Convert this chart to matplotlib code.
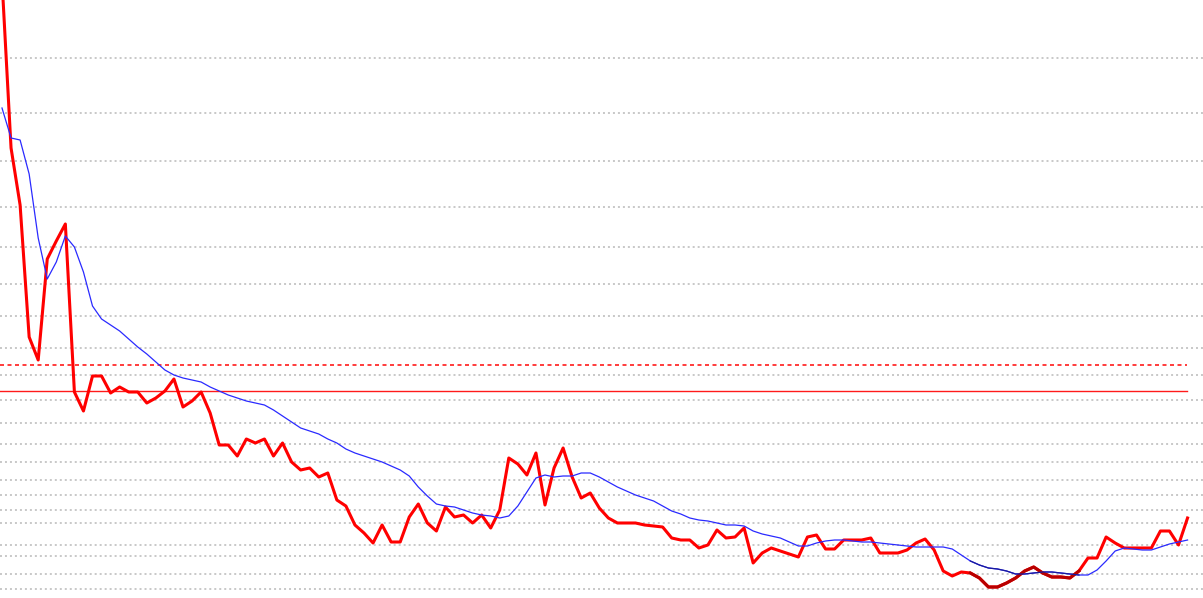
import matplotlib
matplotlib.use("Agg")
import matplotlib.pyplot as plt
import numpy as np

# values (arbitrary units)
price = [61.8, 45.0, 39.3, 26.1, 23.8, 33.9, 35.7, 37.4, 20.6, 18.7,
         22.2, 22.2, 20.5, 21.1, 20.6, 20.6, 19.5, 20.0, 20.7, 21.9,
         19.1, 19.7, 20.6, 18.5, 15.3, 15.3, 14.2, 15.9, 15.5, 15.9,
         14.2, 15.5, 13.6, 12.8, 13.0, 12.1, 12.5, 9.8, 9.2, 7.3,
         6.5, 5.5, 7.3, 5.6, 5.6, 8.1, 9.4, 7.5, 6.7, 9.1,
         8.1, 8.3, 7.5, 8.3, 7.0, 8.8, 14.0, 13.4, 12.3, 14.5,
         9.3, 13.0, 15.0, 12.1, 10.0, 10.5, 9.0, 8.0, 7.5, 7.5,
         7.5, 7.3, 7.2, 7.1, 6.0, 5.8, 5.8, 5.0, 5.3, 6.8,
         6.0, 6.1, 7.0, 3.5, 4.5, 5.0, 4.7, 4.4, 4.1, 6.1,
         6.3, 4.9, 4.9, 5.8, 5.8, 5.8, 6.0, 4.5, 4.5, 4.5,
         4.8, 5.5, 5.9, 4.8, 2.7, 2.2, 2.6, 2.5, 2.0, 1.1,
         1.1, 1.5, 2.0, 2.7, 3.1, 2.5, 2.1, 2.1, 2.0, 2.7,
         4.0, 4.0, 6.1, 5.5, 5.0, 5.0, 5.0, 5.0, 6.7, 6.7,
         5.3, 8.0]

avg = [49.0, 46.0, 45.8, 42.4, 36.0, 31.9, 33.6, 36.2, 35.1, 32.6,
       29.2, 27.9, 27.3, 26.7, 25.9, 25.1, 24.4, 23.6, 22.8, 22.3,
       22.0, 21.8, 21.6, 21.1, 20.7, 20.3, 20.0, 19.7, 19.5, 19.3,
       18.8, 18.2, 17.6, 17.0, 16.7, 16.4, 15.9, 15.5, 14.9, 14.5,
       14.2, 13.9, 13.6, 13.2, 12.8, 12.2, 11.1, 10.2, 9.4, 9.2,
       9.1, 8.8, 8.5, 8.3, 8.2, 8.0, 8.2, 9.2, 10.6, 12.0,
       12.3, 12.1, 12.2, 12.2, 12.5, 12.5, 12.1, 11.6, 11.1, 10.7,
       10.3, 10.0, 9.7, 9.2, 8.7, 8.4, 8.0, 7.8, 7.7, 7.5,
       7.3, 7.3, 7.2, 6.7, 6.4, 6.2, 6.0, 5.6, 5.2, 5.2,
       5.5, 5.7, 5.8, 5.8, 5.7, 5.6, 5.6, 5.5, 5.4, 5.3,
       5.2, 5.1, 5.1, 5.1, 5.1, 4.9, 4.3, 3.7, 3.3, 3.0,
       2.9, 2.7, 2.4, 2.4, 2.5, 2.6, 2.6, 2.5, 2.4, 2.3,
       2.3, 2.8, 3.7, 4.7, 5.0, 4.9, 4.8, 4.8, 5.1, 5.4,
       5.6, 5.8]

grid_levels = [54.0, 48.5, 43.7, 39.1, 35.1, 31.4, 28.2, 25.0, 22.3, 19.8,
               17.5, 15.4, 13.6, 11.8, 10.3, 8.8, 7.5, 5.3, 4.2, 2.4, 0.9]
upper_level = 23.3   # dashed red
mid_level = 20.7     # solid red

x = np.arange(len(price))

fig = plt.figure(figsize=(12.03, 5.98), dpi=100)
ax = fig.add_axes([0, 0, 1, 1])

ax.set_yticks(grid_levels)
ax.grid(True, axis='y', color='#c4c4c4', linestyle=(0, (1.1, 1.66)), linewidth=1.3)
ax.set_xticks([])
ax.tick_params(left=False, labelleft=False)
for s in ax.spines.values():
    s.set_visible(False)

ax.axhline(upper_level, xmin=0, xmax=0.987, color='#ff1a1a', lw=1.2,
           linestyle=(0, (2.4, 2.1)))
ax.axhline(mid_level, xmin=0, xmax=0.987, color='#ff1a1a', lw=1.0)

ax.plot(x, price, color='#ff0000', lw=2.2)
ax.plot(x, avg, color='#2a2aff', lw=0.9)

# darker patch near the bottom right
seg = slice(107, 120)
ax.plot(x[seg], price[seg], color='#b80000', lw=2.2)
ax.plot(x[seg], avg[seg], color='#1a1a9a', lw=0.9)

ax.set_xlim(-2 / 9.05, 1201 / 9.05)
ax.set_ylim(0, 59.8)

fig.savefig("out.png", dpi=100)
